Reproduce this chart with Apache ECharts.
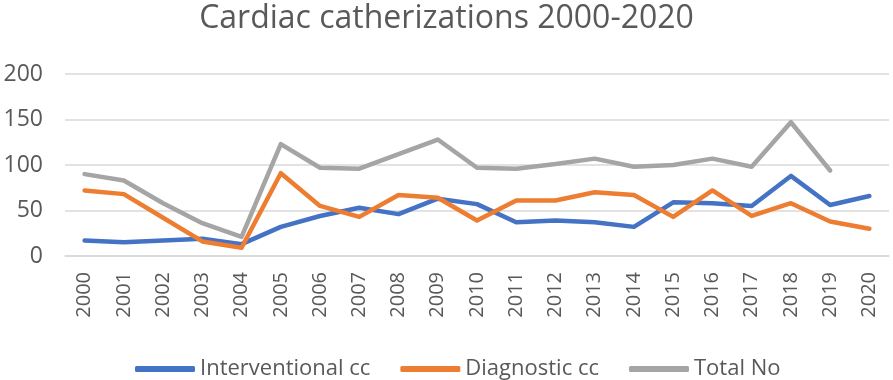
<!DOCTYPE html>
<html>
<head>
<meta charset="utf-8">
<script src="https://cdn.jsdelivr.net/npm/echarts@6/dist/echarts.min.js"></script>
<style>
  html, body { margin: 0; padding: 0; background: #fff; }
  #chartDiv { width: 893px; height: 380px; }
</style>
</head>
<body>
<div id="chartDiv"></div>
<script>
const years = ["2000", "2001", "2002", "2003", "2004", "2005", "2006", "2007", "2008", "2009", "2010",
    "2011", "2012", "2013", "2014", "2015", "2016", "2017", "2018", "2019", "2020"];
const interventional = [17, 15, 17, 19, 13, 32, 44, 53, 46, 63, 57, 37, 39, 37, 32, 59, 58, 55, 88, 56, 66];
const diagnostic = [72, 68, 42, 16, 9, 91, 55, 43, 67, 64, 39, 61, 61, 70, 67, 43, 72, 44, 58, 38, 30];
const totalNo = [90, 83, 58, 36, 21, 123, 97, 96, 112, 128, 97, 96, 101, 107, 98, 100, 107, 98, 147, 94, null];

const textColor = "#595959";
const fontName = "Open Sans";

let chart = echarts.init(document.getElementById("chartDiv"));

function lineSeries(name, data, color) {
    return {
        name: name,
        type: "line",
        data: data,
        symbol: "none",
        lineStyle: { width: 4.5, color: color, join: "round", cap: "round" },
        itemStyle: { color: color },
    };
}

let options = {
    animation: false,
    title: {
        text: "Cardiac catherizations 2000-2020",
        left: "center",
        top: -2,
        textStyle: {
            color: textColor,
            fontSize: 32,
            fontWeight: "normal",
            fontFamily: fontName,
        },
    },
    legend: {
        top: 353,
        left: 130,
        itemWidth: 60,
        itemHeight: 6,
        itemGap: 30,
        icon: "roundRect",
        textStyle: {
            color: textColor,
            fontSize: 22,
            fontFamily: fontName,
        },
        data: ["Interventional cc", "Diagnostic cc", "Total No"],
    },
    grid: {
        left: 65,
        right: 4,
        top: 74,
        bottom: 124,
    },
    xAxis: {
        type: "category",
        data: years,
        boundaryGap: true,
        axisLine: { lineStyle: { color: "#d9d9d9", width: 1.5 } },
        axisTick: { show: false },
        axisLabel: {
            rotate: 90,
            interval: 0,
            margin: 16,
            color: textColor,
            fontSize: 20,
            fontFamily: fontName,
        },
    },
    yAxis: {
        type: "value",
        min: 0,
        max: 200,
        interval: 50,
        axisLine: { show: false },
        axisTick: { show: false },
        splitLine: { lineStyle: { color: "#d9d9d9", width: 1.5 } },
        axisLabel: {
            color: textColor,
            fontSize: 23,
            margin: 22,
            fontFamily: fontName,
        },
    },
    series: [
        lineSeries("Interventional cc", interventional, "#4472C4"),
        lineSeries("Diagnostic cc", diagnostic, "#ED7D31"),
        lineSeries("Total No", totalNo, "#A5A5A5"),
    ],
};
chart.setOption(options);
</script>
</body>
</html>
